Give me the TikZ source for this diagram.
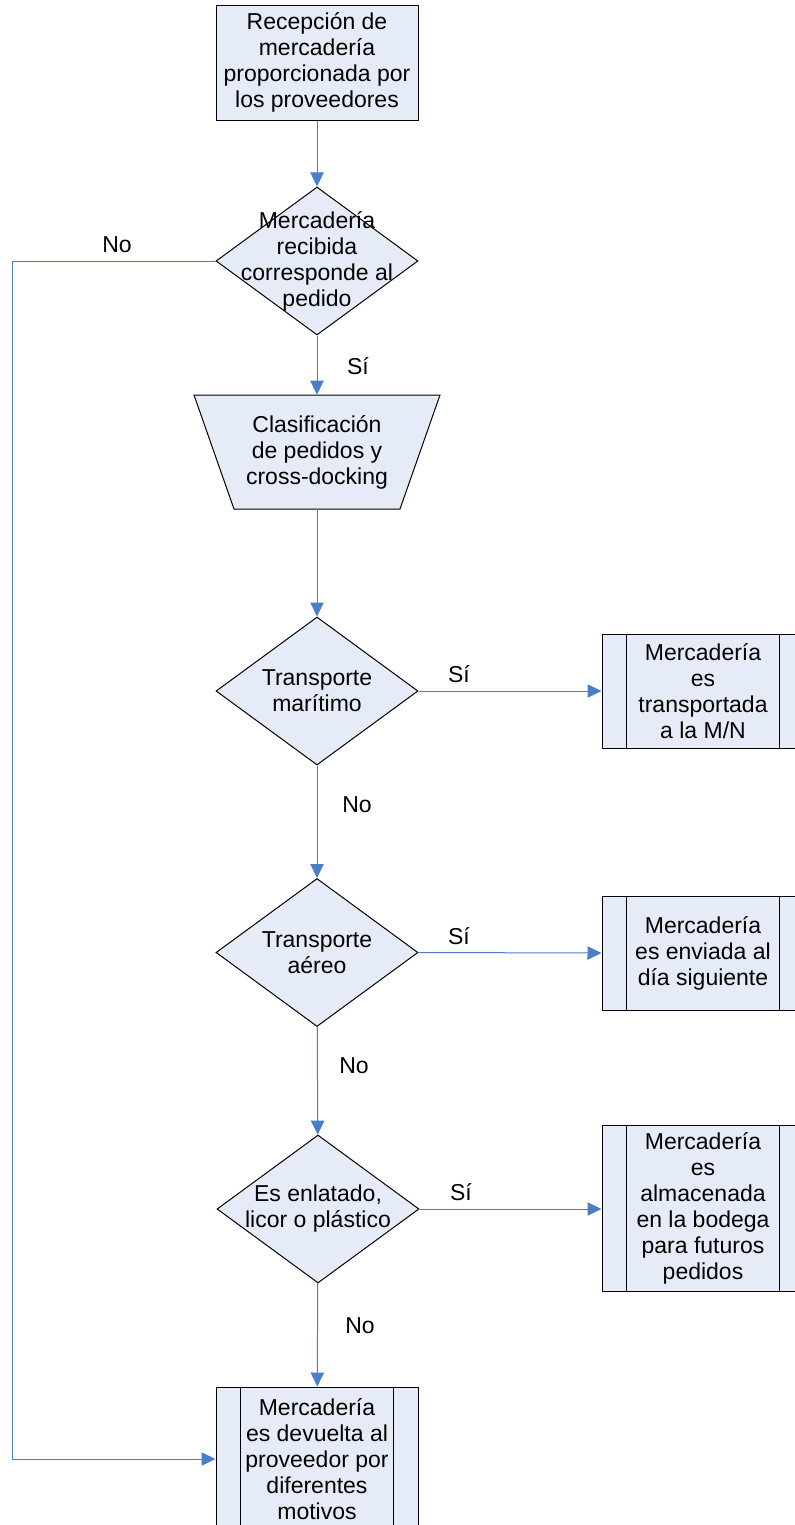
\documentclass[tikz,border=0pt]{standalone}
\usepackage{fontspec}
\setmainfont{Liberation Sans}
\usetikzlibrary{shapes.geometric,arrows.meta}
\definecolor{fillblue}{HTML}{E6ECF7}
\definecolor{lineblue}{HTML}{4A7EC6}
\begin{document}
\begin{tikzpicture}[x=0.75pt,y=-0.75pt,
  font=\fontsize{17.25}{19.5}\selectfont,
  proc/.style={draw=black, line width=0.75pt, fill=fillblue, inner sep=0pt, align=center, minimum width=151.5pt},
  sub/.style={proc, path picture={
     \draw[line width=0.75pt] ([xshift=18.4pt]path picture bounding box.north west) -- ([xshift=18.4pt]path picture bounding box.south west);
     \draw[line width=0.75pt] ([xshift=-18.4pt]path picture bounding box.north east) -- ([xshift=-18.4pt]path picture bounding box.south east);}},
  dia/.style={diamond, draw=black, line width=0.75pt, fill=fillblue, minimum width=151.5pt, minimum height=111pt, inner sep=0pt},
  txt/.style={align=center, inner sep=0pt},
  conn/.style={draw=lineblue, line width=0.75pt, -{Triangle[length=10.5pt,width=10pt]}},
  line/.style={draw=lineblue, line width=0.75pt},
  lbl/.style={inner sep=0pt}]
\useasboundingbox (0,0) rectangle (795,1525);
\clip (0,0) rectangle (795,1525);

% nodes
\node[proc, minimum height=86.25pt] (b1) at (317,62.5) {Recepción de\\mercadería\\proporcionada por\\los proveedores};

\node[dia] (d1) at (317,261) {};
\node[txt] (d1t) at (317,261) {Mercadería\\recibida\\corresponde al\\pedido};

\draw[fill=fillblue, line width=0.75pt] (194,395) -- (440,395) -- (400,509) -- (234,509) -- cycle;
\node[txt, minimum width=124.5pt, minimum height=85.5pt] (t) at (317,452) {Clasificación\\de pedidos y\\cross-docking};

\node[dia] (d2) at (317,691) {};
\node[txt] (d2t) at (317,691) {Transporte\\marítimo};

\node[dia] (d3) at (317,952.5) {};
\node[txt] (d3t) at (317,952.5) {Transporte\\aéreo};

\node[dia] (d4) at (318,1209) {};
\node[txt] (d4t) at (318,1209) {Es enlatado,\\licor o plástico};

\node[sub, minimum height=85.5pt] (r1) at (703,691) {Mercadería\\es\\transportada\\a la M/N};
\node[sub, minimum height=85.5pt] (r2) at (703,953) {Mercadería\\es enviada al\\día siguiente};
\node[sub, minimum height=124.5pt] (r3) at (703,1208) {Mercadería\\es\\almacenada\\en la bodega\\para futuros\\pedidos};

\node[sub, minimum height=108pt] (b5) at (317,1459) {Mercadería\\es devuelta al\\proveedor por\\diferentes\\motivos};

% connectors
\draw[conn] (b1) -- (d1);
\draw[conn] (d1) -- (t.north);
\draw[conn] (t.south) -- (d2);
\draw[conn] (d2) -- (d3);
\draw[conn] (d3) -- (d4);
\draw[conn] (d4) -- (b5);
\draw[conn] (d2.east) -- (r1.west);
\draw[conn] (d3.east) -- (r2.west);
\draw[conn] (d4.east) -- (r3.west |- d4.east);
\coordinate (c1) at (12,261);
\coordinate (c2) at (12,1459);
\draw[conn] (d1.west) -- (c1) -- (c2) -- (b5.west);

% labels
\node[lbl] (l1) at (117,245) {No};
\node[lbl] (l2) at (358,366) {Sí};
\node[lbl] (l3) at (459,674) {Sí};
\node[lbl] (l4) at (357,805) {No};
\node[lbl] (l5) at (459,936) {Sí};
\node[lbl] (l6) at (354,1066) {No};
\node[lbl] (l7) at (461,1192) {Sí};
\node[lbl] (l8) at (360,1326) {No};
\end{tikzpicture}
\end{document}
